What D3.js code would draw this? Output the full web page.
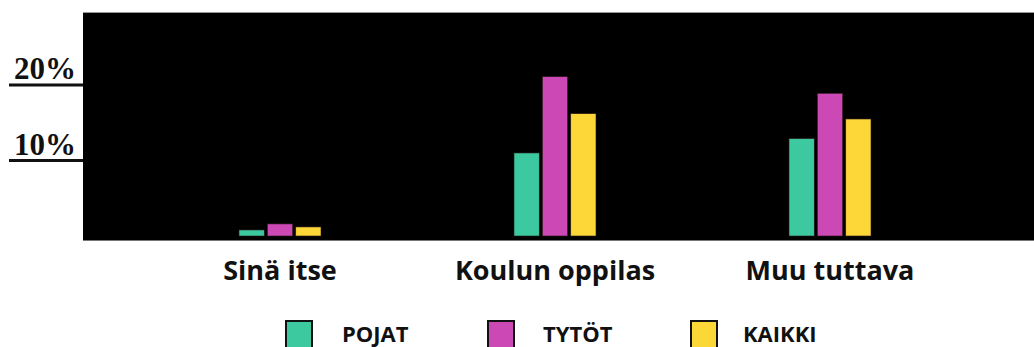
<!DOCTYPE html>
<html>
<head>
<meta charset="utf-8">
<script src="https://cdn.jsdelivr.net/npm/d3@7"></script>
<style>
  html, body { margin: 0; padding: 0; background: #fff; }
  svg { display: block; }
</style>
</head>
<body>
<svg id="chart" width="1034" height="347"></svg>
<script>
// Categories and series
const categories = ["Sinä itse", "Koulun oppilas", "Muu tuttava"];
const seriesNames = ["POJAT", "TYTÖT", "KAIKKI"];
const seriesColors = ["#3dc9a0", "#cc48b4", "#fdd638"];

// Share of respondents (%) per category, one array per series
const pojat  = [0.8, 11.0, 12.9];
const tytot  = [1.6, 21.1, 18.9];
const kaikki = [1.2, 16.2, 15.5];

// Tick values and their labels
const tickValues = [10, 20];
const tickLabels = ["10%", "20%"];

const values = [pojat, tytot, kaikki];
const rows = categories.map((c, i) => ({
  category: c,
  bars: seriesNames.map((s, j) => ({ series: s, value: values[j][i], color: seriesColors[j] }))
}));

const svg = d3.select("#chart");

const panel = { left: 83, right: 1034, top: 13, bottom: 240 };

const y = d3.scaleLinear().domain([0, 20]).range([236, 85]);
const x = d3.scaleBand().domain(categories).range([142.5, 967.5]).padding(0);
const xs = d3.scaleBand().domain(seriesNames).range([-41, 41]).paddingInner(0.11);

// Black plot panel
svg.append("rect")
  .attr("x", panel.left).attr("y", panel.top)
  .attr("width", panel.right - panel.left).attr("height", panel.bottom - panel.top)
  .attr("fill", "#000");
svg.append("line")
  .attr("x1", panel.left).attr("x2", panel.right)
  .attr("y1", panel.bottom + 0.5).attr("y2", panel.bottom + 0.5)
  .attr("stroke", "#777").attr("stroke-width", 1);
svg.append("line")
  .attr("x1", panel.left).attr("x2", panel.right)
  .attr("y1", panel.top - 0.5).attr("y2", panel.top - 0.5)
  .attr("stroke", "#999").attr("stroke-width", 1);

// Left-hand tick rules with labels sitting on top
const yAxis = svg.append("g").attr("class", "y-axis");
const tk = yAxis.selectAll("g").data(tickValues).join("g")
  .attr("transform", d => `translate(0,${y(d)})`);
tk.append("line")
  .attr("x1", 9).attr("x2", panel.left)
  .attr("stroke", "#111").attr("stroke-width", 3);
tk.append("text")
  .attr("x", 14).attr("y", -6)
  .attr("font-family", "'Liberation Serif', 'DejaVu Serif', serif")
  .attr("font-weight", "bold")
  .attr("font-size", 31)
  .attr("fill", "#111")
  .text((d, i) => tickLabels[i]);

// Bars
const groups = svg.append("g").selectAll("g").data(rows).join("g")
  .attr("transform", d => `translate(${x(d.category) + x.bandwidth() / 2},0)`);
groups.selectAll("rect").data(d => d.bars).join("rect")
  .attr("x", d => xs(d.series))
  .attr("width", xs.bandwidth())
  .attr("y", d => y(d.value))
  .attr("height", d => y(0) - y(d.value))
  .attr("fill", d => d.color)
  .attr("stroke", "#2a1a1a").attr("stroke-width", 0.6);

// Category labels
const xAxis = d3.axisBottom(x).tickSize(0).tickPadding(0);
const gx = svg.append("g").attr("transform", "translate(0,255)").call(xAxis);
gx.select(".domain").remove();
gx.selectAll("text")
  .attr("dy", 0).attr("y", 25)
  .attr("font-family", "'Open Sans', Lato, sans-serif")
  .attr("font-weight", "bold")
  .attr("font-size", 27)
  .attr("fill", "#111");

// Legend
const legendX = [285, 487, 690];
const legendTextX = [57, 56, 53];
const legend = svg.append("g").selectAll("g").data(seriesNames).join("g")
  .attr("transform", (d, i) => `translate(${legendX[i]},0)`);
legend.append("rect")
  .attr("x", 1).attr("y", 321).attr("width", 26).attr("height", 27)
  .attr("fill", (d, i) => seriesColors[i])
  .attr("stroke", "#111").attr("stroke-width", 2);
legend.append("text")
  .attr("x", (d, i) => legendTextX[i]).attr("y", 342)
  .attr("font-family", "'Open Sans', Lato, sans-serif")
  .attr("font-weight", "bold")
  .attr("font-size", 22)
  .attr("fill", "#111")
  .text(d => d);
</script>
</body>
</html>
